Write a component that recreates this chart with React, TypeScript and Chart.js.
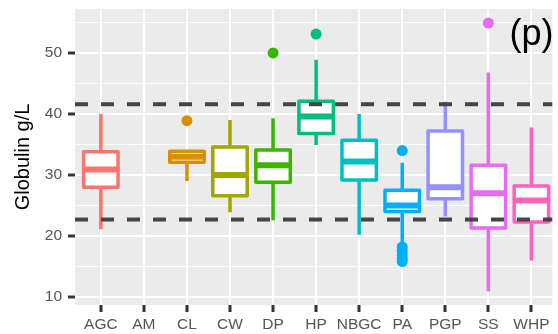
import { useEffect, useRef } from 'react';
import { Chart, registerables } from 'chart.js';

Chart.register(...registerables);

const categories = ['AGC', 'AM', 'CL', 'CW', 'DP', 'HP', 'NBGC', 'PA', 'PGP', 'SS', 'WHP'];
const colors = ['#F8766D', '#D89000', '#D89000', '#A3A500', '#39B600', '#00BF7D', '#00BFC4', '#00B0F6', '#9590FF', '#E76BF3', '#FF62BC'];
const whiskerLow: (number | null)[] = [21.1, null, 29.0, 23.9, 22.6, 34.9, 20.2, 19.0, 23.2, 10.9, 16.0];
const q1: (number | null)[] = [28.0, null, 32.1, 26.6, 28.8, 36.8, 29.2, 24.0, 26.1, 21.3, 22.3];
const median: (number | null)[] = [30.9, null, 33.0, 30.0, 31.6, 39.6, 32.2, 25.0, 28.0, 27.0, 25.8];
const q3: (number | null)[] = [33.8, null, 33.9, 34.6, 34.1, 42.1, 35.7, 27.5, 37.2, 31.6, 28.2];
const whiskerHigh: (number | null)[] = [40.0, null, 34.0, 39.0, 39.3, 48.9, 40.0, 32.0, 42.0, 46.8, 37.8];
const outlierValues: number[][] = [[], [], [38.9], [], [50.0], [53.1], [], [34.0, 18.2, 17.5, 16.9, 16.3, 15.8], [], [54.9], []];
const refLines = [41.6, 22.7];
const yTickValues = [10, 20, 30, 40, 50];

const FONT = '"Liberation Sans", Arial, Helvetica, sans-serif';

export default function App() {
  const ref = useRef<HTMLCanvasElement>(null);

  useEffect(() => {
    document.body.style.margin = '0';
    const canvas = ref.current!;

    const boxPlugin = {
      id: 'ggBoxes',
      beforeDraw(chart: any) {
        const { ctx, chartArea } = chart;
        ctx.save();
        ctx.fillStyle = '#EBEBEB';
        ctx.fillRect(chartArea.left, chartArea.top, chartArea.right - chartArea.left, chartArea.bottom - chartArea.top);
        ctx.restore();
      },
      beforeDatasetsDraw(chart: any) {
        const { ctx } = chart;
        const xs = chart.scales.x;
        const ys = chart.scales.y;
        ctx.save();
        categories.forEach((_, i) => {
          const lo = whiskerLow[i], a = q1[i], m = median[i], b = q3[i], hi = whiskerHigh[i];
          if (lo == null || a == null || m == null || b == null || hi == null) return;
          const col = colors[i];
          const xc = xs.getPixelForValue(i);
          const xl = xs.getPixelForValue(i - 0.4);
          const xr = xs.getPixelForValue(i + 0.4);
          const yLo = ys.getPixelForValue(lo);
          const yA = ys.getPixelForValue(a);
          const yM = ys.getPixelForValue(m);
          const yB = ys.getPixelForValue(b);
          const yHi = ys.getPixelForValue(hi);
          ctx.strokeStyle = col;
          ctx.lineCap = 'butt';
          ctx.lineWidth = 3.5;
          ctx.beginPath();
          ctx.moveTo(xc, yB);
          ctx.lineTo(xc, yHi);
          ctx.moveTo(xc, yA);
          ctx.lineTo(xc, yLo);
          ctx.stroke();
          ctx.fillStyle = '#FFFFFF';
          ctx.fillRect(xl, yB, xr - xl, yA - yB);
          ctx.lineJoin = 'round';
          ctx.strokeRect(xl, yB, xr - xl, yA - yB);
          ctx.lineWidth = 6;
          ctx.beginPath();
          ctx.moveTo(xl, yM);
          ctx.lineTo(xr, yM);
          ctx.stroke();
        });
        ctx.restore();
      },
      afterDraw(chart: any) {
        const { ctx } = chart;
        ctx.save();
        ctx.fillStyle = '#000000';
        ctx.font = `36px ${FONT}`;
        ctx.textBaseline = 'alphabetic';
        ctx.textAlign = 'left';
        ctx.fillText('(p)', 509.5, 45);
        ctx.restore();
      },
    };

    const xMin = -0.6;
    const xMax = 10.49;

    const lineDatasets = refLines.map((v) => ({
      type: 'scatter' as const,
      data: [{ x: xMin, y: v }, { x: xMax, y: v }],
      showLine: true,
      borderColor: '#454545',
      borderWidth: 4,
      borderDash: [13, 13],
      pointRadius: 0,
      fill: false,
    }));

    const outlierDatasets = categories
      .map((_, i) => ({
        type: 'scatter' as const,
        data: outlierValues[i].map((v) => ({ x: i, y: v })),
        pointRadius: 5.5,
        pointBorderWidth: 0,
        pointBackgroundColor: colors[i],
        pointBorderColor: colors[i],
        showLine: false,
      }))
      .filter((d) => d.data.length > 0);

    const zeroPad = (s: any) => {
      s.paddingLeft = 0;
      s.paddingRight = 0;
      s.paddingTop = 0;
      s.paddingBottom = 0;
    };

    const chart = new Chart(canvas, {
      type: 'scatter',
      data: { datasets: [...lineDatasets, ...outlierDatasets] as any },
      options: {
        responsive: false,
        animation: false,
        events: [],
        layout: { padding: { top: 9, left: 0, right: 0, bottom: 0 } },
        plugins: { legend: { display: false }, tooltip: { enabled: false } },
        scales: {
          x: {
            type: 'linear',
            min: xMin,
            max: xMax,
            afterFit: (s: any) => {
              s.height = 29;
              zeroPad(s);
            },
            border: { display: false },
            grid: {
              color: '#FFFFFF',
              lineWidth: 2,
              tickColor: '#333333',
              tickWidth: 3,
              tickLength: 7,
            },
            ticks: {
              stepSize: 1,
              includeBounds: false,
              autoSkip: false,
              maxRotation: 0,
              minRotation: 0,
              padding: 3,
              color: '#555555',
              font: { family: FONT, size: 15.5 },
              callback: (v: any) => categories[v as number] ?? '',
            },
          },
          y: {
            type: 'linear',
            min: 8.69,
            max: 57.21,
            afterFit: (s: any) => {
              s.width = 75;
              zeroPad(s);
            },
            border: { display: false },
            title: {
              display: true,
              text: 'Globulin g/L',
              color: '#000000',
              font: { family: FONT, size: 20 },
              padding: { top: 11, bottom: 0 },
            },
            grid: {
              color: '#FFFFFF',
              lineWidth: (c: any) => (yTickValues.includes(c.tick?.value) ? 2 : 1),
              tickColor: (c: any) => (yTickValues.includes(c.tick?.value) ? '#333333' : 'rgba(0,0,0,0)'),
              tickWidth: 3,
              tickLength: 7,
            },
            ticks: {
              stepSize: 5,
              includeBounds: false,
              padding: 6,
              color: '#555555',
              font: { family: FONT, size: 15.5 },
              callback: (v: any) => (yTickValues.includes(v) ? String(v) : ''),
            },
          },
        },
      },
      plugins: [boxPlugin],
    });

    return () => chart.destroy();
  }, []);

  return (
    <div style={{ width: 558, height: 334 }}>
      <canvas ref={ref} width={558} height={334} style={{ display: 'block', width: 558, height: 334 }} />
    </div>
  );
}
